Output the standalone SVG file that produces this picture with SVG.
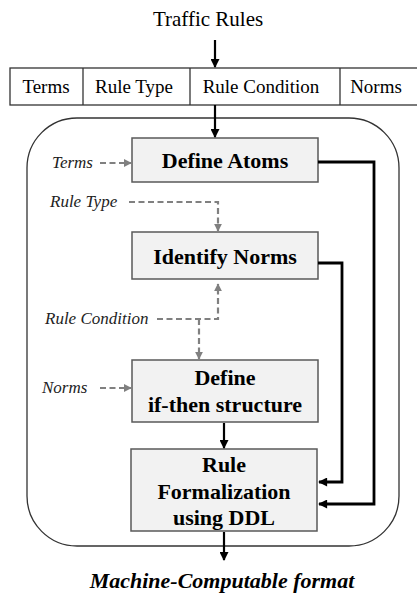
<svg xmlns="http://www.w3.org/2000/svg" width="417" height="595" viewBox="0 0 417 595" font-family="Liberation Serif, serif">
<style>
text{font-family:'Liberation Serif',serif;fill:#000}
.t{font-size:19px;text-anchor:middle}
.b{font-size:22px;font-weight:bold;text-anchor:middle}
.i{font-size:17px;font-style:italic;fill:#222}
.box{fill:#f2f2f2;stroke:#595959;stroke-width:1.5}
.solid{fill:none;stroke:#000;stroke-width:2.2}
.thick{fill:none;stroke:#000;stroke-width:2.8}
.dash{fill:none;stroke:#808080;stroke-width:2.2;stroke-dasharray:6 3.5}
</style>
<defs>
<marker id="ab" viewBox="0 0 10 10" refX="9" refY="5" markerWidth="10" markerHeight="9" markerUnits="userSpaceOnUse" orient="auto"><path d="M0,0 L10,5 L0,10 z" fill="#000"/></marker>
<marker id="ag" viewBox="0 0 10 10" refX="9" refY="5" markerWidth="8" markerHeight="8" markerUnits="userSpaceOnUse" orient="auto"><path d="M0,0 L10,5 L0,10 z" fill="#808080"/></marker>
</defs>
<text x="208" y="26" font-size="21" text-anchor="middle">Traffic Rules</text>
<g id="table">
<rect x="10" y="68" width="420" height="37" fill="#fff" stroke="#333" stroke-width="1.3"/>
<line x1="83" y1="68" x2="83" y2="105" stroke="#333" stroke-width="1.3"/>
<line x1="190" y1="68" x2="190" y2="105" stroke="#333" stroke-width="1.3"/>
<line x1="340" y1="68" x2="340" y2="105" stroke="#333" stroke-width="1.3"/>
<text class="t" x="46" y="93">Terms</text>
<text class="t" x="134" y="93">Rule Type</text>
<text class="t" x="261" y="93">Rule Condition</text>
<text class="t" x="376" y="93">Norms</text>
</g>
<g id="container">
<rect x="27" y="118" width="372" height="428" rx="50" ry="50" fill="none" stroke="#333" stroke-width="1.3"/>
</g>
<g id="atoms">
<rect class="box" x="132" y="138" width="186" height="44"/>
<text class="b" x="225" y="168">Define Atoms</text>
</g>
<g id="norms">
<rect class="box" x="132" y="232" width="186" height="47"/>
<text class="b" x="225" y="264">Identify Norms</text>
</g>
<g id="ifthen">
<rect class="box" x="132" y="360" width="186" height="62"/>
<text class="b" x="225" y="385">Define</text>
<text class="b" x="225" y="412">if-then structure</text>
</g>
<g id="formal">
<rect class="box" x="131" y="449" width="186" height="82"/>
<text class="b" x="224" y="472">Rule</text>
<text class="b" x="224" y="499">Formalization</text>
<text class="b" x="224" y="525">using DDL</text>
</g>
<g id="labels">
<text class="i" x="52" y="168">Terms</text>
<text class="i" x="50" y="207">Rule Type</text>
<text class="i" x="45" y="324">Rule Condition</text>
<text class="i" x="42" y="393">Norms</text>
</g>
<g id="connectors">
<line class="solid" x1="215" y1="40" x2="215" y2="67" marker-end="url(#ab)"/>
<line class="solid" x1="215" y1="105" x2="215" y2="137" marker-end="url(#ab)"/>
<line class="solid" x1="224" y1="423" x2="224" y2="448" marker-end="url(#ab)"/>
<line class="solid" x1="224" y1="532" x2="224" y2="560" marker-end="url(#ab)"/>
<polyline class="thick" points="318,162 374,162 374,504 319,504" marker-end="url(#ab)"/>
<polyline class="thick" points="318,263 342,263 342,482 319,482" marker-end="url(#ab)"/>
<line class="dash" x1="100" y1="163" x2="131" y2="163" marker-end="url(#ag)"/>
<polyline class="dash" points="129,202 218,202 218,231" marker-end="url(#ag)"/>
<polyline class="dash" points="157,319 218,319 218,284" marker-end="url(#ag)"/>
<polyline class="dash" points="199,319 199,359" marker-end="url(#ag)"/>
<line class="dash" x1="100" y1="388" x2="131" y2="388" marker-end="url(#ag)"/>
</g>
<text x="222" y="588" font-size="22" font-weight="bold" font-style="italic" text-anchor="middle">Machine-Computable format</text>
</svg>
